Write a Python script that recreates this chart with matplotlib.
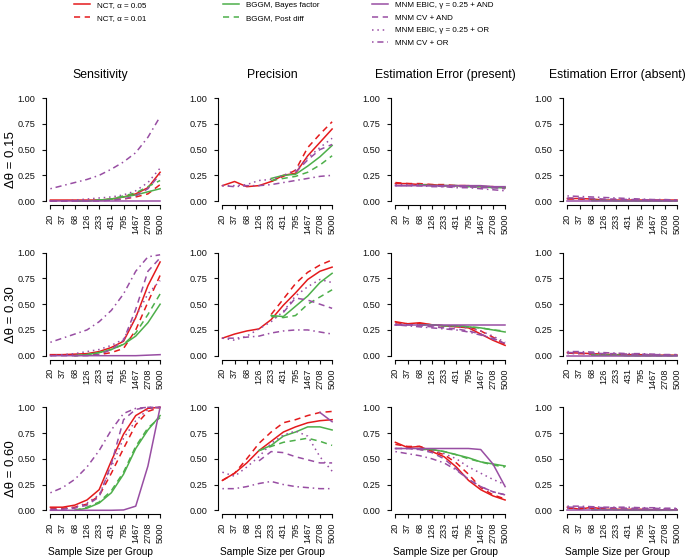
import numpy as np
import matplotlib
matplotlib.use("Agg")
import matplotlib.pyplot as plt

plt.rcParams['font.family'] = ['Liberation Sans', 'DejaVu Sans']

nan = np.nan

sample_sizes = ['20', '37', '68', '126', '233', '431', '795', '1467', '2708', '5000']
metrics = ['Sensitivity', 'Precision', 'Estimation Error (present)', 'Estimation Error (absent)']
deltas = ['0.15', '0.30', '0.60']

methods = ['NCT, \u03b1 = 0.05', 'NCT, \u03b1 = 0.01',
           'BGGM, Bayes factor', 'BGGM, Post diff',
           'MNM EBIC, \u03b3 = 0.25 + AND', 'MNM CV + AND',
           'MNM EBIC, \u03b3 = 0.25 + OR', 'MNM CV + OR']
colors = ['#E41A1C', '#E41A1C', '#4DAF4A', '#4DAF4A',
          '#984EA3', '#984EA3', '#984EA3', '#984EA3']
styles = ['-', (0, (4, 3)), '-', (0, (4, 3)),
          '-', (0, (4, 3)), (0, (1, 2.5)), (0, (1, 2.5, 4, 2.5))]

# rows: NCT .05, NCT .01, BGGM BF, BGGM post, EBIC AND, CV AND, EBIC OR, CV OR
sens_015 = [
    [0.01, 0.01, 0.01, 0.01, 0.01, 0.02, 0.04, 0.07, 0.13, 0.28],
    [0.00, 0.00, 0.00, 0.00, 0.01, 0.01, 0.02, 0.04, 0.07, 0.16],
    [nan, nan, 0.00, 0.00, 0.01, 0.02, 0.04, 0.06, 0.09, 0.12],
    [nan, nan, 0.00, 0.00, 0.01, 0.02, 0.05, 0.08, 0.14, 0.20],
    [0.00, 0.00, 0.00, 0.00, 0.00, 0.00, 0.00, 0.00, 0.00, 0.00],
    [0.00, 0.00, 0.00, 0.00, 0.00, 0.01, 0.02, 0.05, 0.12, 0.26],
    [0.00, 0.00, 0.01, 0.02, 0.03, 0.04, 0.06, 0.10, 0.18, 0.32],
    [0.12, 0.15, 0.18, 0.21, 0.25, 0.31, 0.38, 0.47, 0.62, 0.82],
]
prec_015 = [
    [0.15, 0.19, 0.14, 0.15, 0.19, 0.25, 0.27, 0.44, 0.57, 0.70],
    [nan, nan, nan, nan, 0.19, 0.24, 0.30, 0.52, 0.65, 0.77],
    [nan, nan, nan, nan, 0.22, 0.25, 0.26, 0.34, 0.43, 0.54],
    [nan, nan, nan, nan, 0.20, 0.22, 0.24, 0.28, 0.35, 0.44],
    [nan, nan, nan, nan, nan, nan, nan, nan, nan, nan],
    [nan, nan, nan, nan, nan, nan, 0.28, 0.40, 0.50, 0.55],
    [0.15, 0.15, 0.16, 0.20, 0.21, 0.25, 0.30, 0.42, 0.52, 0.61],
    [0.15, 0.14, 0.15, 0.15, 0.16, 0.18, 0.20, 0.22, 0.24, 0.25],
]
eep_015 = [
    [0.17, 0.17, 0.16, 0.16, 0.15, 0.15, 0.15, 0.14, 0.14, 0.13],
    [0.18, 0.17, 0.17, 0.16, 0.16, 0.15, 0.15, 0.14, 0.14, 0.13],
    [nan, nan, 0.16, 0.15, 0.15, 0.15, 0.14, 0.14, 0.13, 0.13],
    [nan, nan, 0.16, 0.15, 0.15, 0.15, 0.14, 0.14, 0.14, 0.13],
    [0.15, 0.15, 0.15, 0.15, 0.15, 0.15, 0.15, 0.15, 0.14, 0.14],
    [0.15, 0.15, 0.15, 0.15, 0.14, 0.14, 0.14, 0.13, 0.13, 0.12],
    [0.16, 0.16, 0.16, 0.15, 0.15, 0.15, 0.14, 0.14, 0.13, 0.13],
    [0.15, 0.15, 0.15, 0.14, 0.14, 0.13, 0.13, 0.12, 0.11, 0.10],
]
eea_015 = [
    [0.025, 0.025, 0.02, 0.01, 0.01, 0.01, 0.01, 0.01, 0.01, 0.01],
    [0.02, 0.02, 0.015, 0.01, 0.01, 0.01, 0.01, 0.005, 0.005, 0.005],
    [nan, nan, 0.005, 0.005, 0.0, 0.0, 0.0, 0.0, 0.0, 0.0],
    [nan, nan, 0.005, 0.005, 0.005, 0.0, 0.0, 0.0, 0.0, 0.0],
    [0.0, 0.0, 0.0, 0.0, 0.0, 0.0, 0.0, 0.0, 0.0, 0.0],
    [0.03, 0.03, 0.025, 0.02, 0.02, 0.015, 0.015, 0.01, 0.01, 0.01],
    [0.02, 0.02, 0.015, 0.015, 0.01, 0.01, 0.01, 0.005, 0.005, 0.005],
    [0.05, 0.045, 0.04, 0.035, 0.03, 0.025, 0.02, 0.015, 0.015, 0.01],
]

sens_030 = [
    [0.01, 0.01, 0.015, 0.02, 0.04, 0.08, 0.14, 0.37, 0.68, 0.91],
    [0.005, 0.005, 0.005, 0.01, 0.01, 0.03, 0.07, 0.25, 0.52, 0.78],
    [nan, nan, 0.00, 0.01, 0.03, 0.06, 0.11, 0.19, 0.32, 0.50],
    [nan, nan, 0.00, 0.01, 0.03, 0.06, 0.11, 0.22, 0.40, 0.60],
    [0.00, 0.00, 0.00, 0.00, 0.00, 0.00, 0.00, 0.00, 0.005, 0.01],
    [0.00, 0.00, 0.00, 0.00, 0.01, 0.06, 0.15, 0.45, 0.82, 0.95],
    [0.00, 0.01, 0.02, 0.04, 0.06, 0.10, 0.16, 0.38, 0.60, 0.73],
    [0.13, 0.17, 0.21, 0.25, 0.33, 0.44, 0.60, 0.82, 0.96, 0.98],
]
prec_030 = [
    [0.17, 0.21, 0.24, 0.26, 0.35, 0.49, 0.61, 0.74, 0.82, 0.86],
    [nan, nan, nan, nan, 0.40, 0.55, 0.70, 0.81, 0.88, 0.93],
    [nan, nan, nan, nan, 0.39, 0.38, 0.48, 0.58, 0.71, 0.80],
    [nan, nan, nan, nan, 0.38, 0.37, 0.39, 0.50, 0.57, 0.64],
    [nan, nan, nan, nan, nan, nan, nan, nan, nan, nan],
    [nan, nan, nan, nan, nan, 0.42, 0.56, 0.54, 0.50, 0.46],
    [0.17, 0.15, 0.19, 0.26, 0.33, 0.43, 0.58, 0.67, 0.74, 0.71],
    [0.17, 0.17, 0.18, 0.19, 0.22, 0.24, 0.25, 0.25, 0.23, 0.21],
]
eep_030 = [
    [0.33, 0.31, 0.32, 0.30, 0.29, 0.28, 0.27, 0.21, 0.15, 0.10],
    [0.32, 0.31, 0.31, 0.30, 0.29, 0.29, 0.28, 0.24, 0.18, 0.11],
    [nan, nan, 0.30, 0.30, 0.29, 0.29, 0.28, 0.27, 0.25, 0.23],
    [nan, nan, 0.30, 0.30, 0.29, 0.29, 0.28, 0.27, 0.25, 0.24],
    [0.30, 0.30, 0.30, 0.30, 0.30, 0.30, 0.30, 0.30, 0.30, 0.30],
    [0.30, 0.30, 0.29, 0.28, 0.27, 0.26, 0.24, 0.21, 0.16, 0.12],
    [0.31, 0.30, 0.30, 0.29, 0.29, 0.28, 0.27, 0.24, 0.19, 0.13],
    [0.30, 0.29, 0.28, 0.27, 0.26, 0.25, 0.23, 0.20, 0.17, 0.12],
]
eea_030 = [
    [0.03, 0.025, 0.02, 0.015, 0.01, 0.01, 0.01, 0.005, 0.005, 0.005],
    [0.025, 0.02, 0.015, 0.01, 0.01, 0.01, 0.005, 0.005, 0.005, 0.005],
    [nan, nan, 0.005, 0.005, 0.005, 0.0, 0.0, 0.0, 0.0, 0.0],
    [nan, nan, 0.005, 0.005, 0.005, 0.0, 0.0, 0.0, 0.0, 0.0],
    [0.0, 0.0, 0.0, 0.0, 0.0, 0.0, 0.0, 0.0, 0.0, 0.0],
    [0.03, 0.03, 0.025, 0.02, 0.02, 0.015, 0.015, 0.01, 0.01, 0.01],
    [0.02, 0.02, 0.015, 0.015, 0.01, 0.01, 0.01, 0.005, 0.005, 0.005],
    [0.04, 0.04, 0.035, 0.03, 0.025, 0.02, 0.02, 0.015, 0.01, 0.01],
]

sens_060 = [
    [0.03, 0.03, 0.05, 0.10, 0.20, 0.48, 0.74, 0.92, 0.99, 1.00],
    [0.02, 0.02, 0.03, 0.06, 0.14, 0.36, 0.60, 0.83, 0.96, 1.00],
    [nan, nan, 0.00, 0.02, 0.07, 0.17, 0.35, 0.60, 0.78, 0.92],
    [nan, nan, 0.00, 0.03, 0.08, 0.19, 0.37, 0.62, 0.80, 0.90],
    [0.00, 0.00, 0.00, 0.00, 0.00, 0.00, 0.003, 0.04, 0.43, 1.00],
    [0.01, 0.01, 0.02, 0.05, 0.13, 0.45, 0.88, 0.98, 1.00, 1.00],
    [0.00, 0.01, 0.03, 0.07, 0.15, 0.42, 0.70, 0.87, 0.98, 1.00],
    [0.17, 0.22, 0.30, 0.42, 0.58, 0.78, 0.94, 0.99, 1.00, 1.00],
]
prec_060 = [
    [0.29, 0.36, 0.46, 0.58, 0.67, 0.76, 0.81, 0.85, 0.87, 0.88],
    [0.29, 0.36, 0.50, 0.65, 0.76, 0.85, 0.88, 0.92, 0.95, 0.96],
    [nan, nan, nan, 0.58, 0.63, 0.72, 0.76, 0.81, 0.81, 0.78],
    [nan, nan, nan, 0.58, 0.62, 0.66, 0.68, 0.70, 0.67, 0.63],
    [nan, nan, nan, nan, nan, nan, nan, nan, 0.95, 0.86],
    [nan, nan, nan, 0.48, 0.57, 0.56, 0.52, 0.49, 0.46, 0.46],
    [0.37, 0.33, 0.42, 0.52, 0.65, 0.73, 0.77, 0.72, 0.52, 0.38],
    [0.21, 0.21, 0.23, 0.26, 0.28, 0.25, 0.23, 0.22, 0.21, 0.21],
]
eep_060 = [
    [0.66, 0.61, 0.62, 0.57, 0.52, 0.42, 0.29, 0.20, 0.14, 0.10],
    [0.64, 0.62, 0.62, 0.58, 0.54, 0.46, 0.35, 0.22, 0.15, 0.11],
    [nan, nan, 0.60, 0.59, 0.57, 0.54, 0.51, 0.47, 0.45, 0.43],
    [nan, nan, 0.59, 0.59, 0.57, 0.54, 0.50, 0.47, 0.44, 0.42],
    [0.60, 0.60, 0.60, 0.60, 0.60, 0.60, 0.60, 0.59, 0.45, 0.23],
    [0.60, 0.60, 0.59, 0.56, 0.50, 0.40, 0.30, 0.23, 0.18, 0.15],
    [0.60, 0.60, 0.59, 0.58, 0.55, 0.50, 0.42, 0.36, 0.30, 0.25],
    [0.57, 0.55, 0.53, 0.50, 0.46, 0.39, 0.30, 0.23, 0.18, 0.15],
]
eea_060 = [
    [0.03, 0.01, 0.03, 0.01, 0.01, 0.01, 0.01, 0.005, 0.005, 0.005],
    [0.02, 0.02, 0.02, 0.015, 0.01, 0.01, 0.01, 0.005, 0.005, 0.005],
    [nan, nan, 0.005, 0.005, 0.005, 0.0, 0.0, 0.0, 0.0, 0.0],
    [nan, nan, 0.005, 0.005, 0.005, 0.005, 0.0, 0.0, 0.0, 0.0],
    [0.0, 0.0, 0.0, 0.0, 0.0, 0.0, 0.0, 0.0, 0.0, 0.0],
    [0.03, 0.03, 0.03, 0.025, 0.025, 0.02, 0.02, 0.02, 0.015, 0.015],
    [0.02, 0.02, 0.02, 0.015, 0.015, 0.01, 0.01, 0.01, 0.01, 0.005],
    [0.04, 0.04, 0.035, 0.03, 0.03, 0.03, 0.025, 0.025, 0.02, 0.02],
]

panels = [
    [sens_015, prec_015, eep_015, eea_015],
    [sens_030, prec_030, eep_030, eea_030],
    [sens_060, prec_060, eep_060, eea_060],
]

W, H = 685, 560
fig = plt.figure(figsize=(W / 100, H / 100), dpi=100)

col_left = [46, 218, 391, 563]
col_w = 118.5
row_top = [94, 248.6, 403.2]
row_h = 111.2

x = np.arange(1, 11)
handles = None
for r in range(3):
    for c in range(4):
        ax = fig.add_axes([col_left[c] / W, 1 - (row_top[r] + row_h) / H, col_w / W, row_h / H])
        vals = np.array(panels[r][c], dtype=float)
        lines = []
        for k in range(len(methods)):
            ln, = ax.plot(x, vals[k], color=colors[k], linestyle=styles[k], lw=1.1,
                          label=methods[k])
            lines.append(ln)
        if handles is None:
            handles = lines
        ax.set_xlim(1 - 0.36, 10 + 0.36)
        ax.set_ylim(-0.04, 1.04)
        for s in ['top', 'right']:
            ax.spines[s].set_visible(False)
        ax.spines['left'].set_bounds(0, 1)
        ax.spines['bottom'].set_bounds(1, 10)
        ax.spines['left'].set_linewidth(0.8)
        ax.spines['bottom'].set_linewidth(0.8)
        ax.set_yticks([0, 0.25, 0.5, 0.75, 1.0])
        ax.set_yticklabels(['0.00', '0.25', '0.50', '0.75', '1.00'])
        ax.set_xticks(x)
        ax.set_xticklabels(sample_sizes, rotation=90)
        ax.tick_params(length=3, width=0.8, pad=3, labelsize=6.6, colors='#111111')
        ax.tick_params(axis='y', pad=4.5)
        cx = (col_left[c] + col_w / 2 - 5) / W
        if r == 0:
            fig.text(cx, 1 - 75 / H, metrics[c], ha='center', va='center', fontsize=8.8)
        if r == 2:
            fig.text(cx, 1 - 552 / H, 'Sample Size per Group', ha='center', va='center',
                     fontsize=7.3)
    fig.text(11 / W, 1 - (row_top[r] + row_h / 2 + 10) / H, '\u0394\u03b8 = ' + deltas[r],
             rotation=90, ha='center', va='center', fontsize=9.5)

leg_cols = [[0, 1], [2, 3], [4, 5, 6, 7]]
leg_x = [74, 223, 372]
for idx, xs in zip(leg_cols, leg_x):
    fig.legend([handles[i] for i in idx], [methods[i] for i in idx],
               loc='upper left', bbox_to_anchor=(xs / W, 1 - 1.5 / H), frameon=False,
               fontsize=5.8, handlelength=2.0, handletextpad=0.9,
               borderpad=0, borderaxespad=0, labelspacing=0.62)

fig.savefig('out.png', dpi=100)
